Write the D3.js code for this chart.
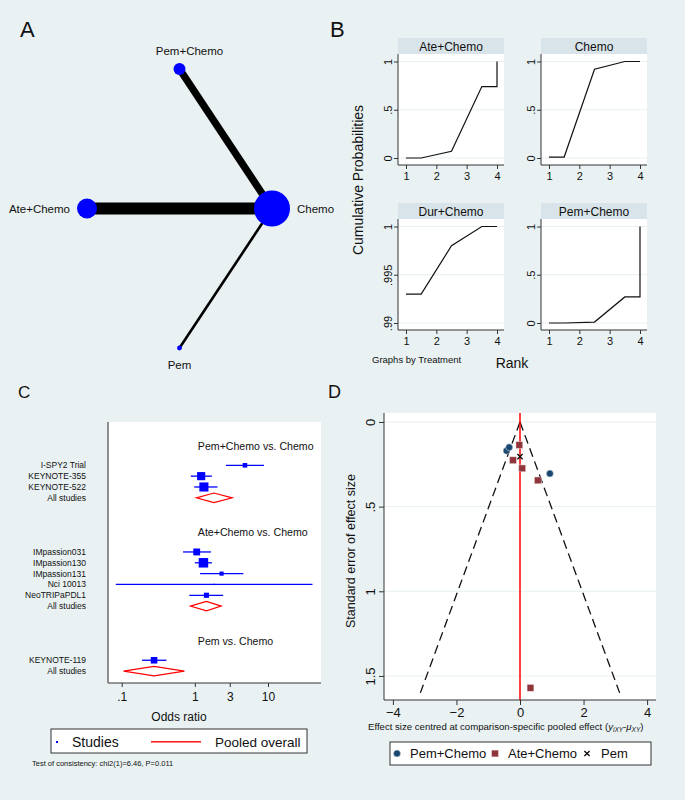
<!DOCTYPE html>
<html>
<head>
<meta charset="utf-8">
<script src="https://cdn.jsdelivr.net/npm/d3@7"></script>
<style>
  body { margin: 0; background: #e9f1f3; }
  text { font-family: "Liberation Sans", Arial, sans-serif; fill: #111; }
</style>
</head>
<body>
<svg id="fig" width="685" height="800"></svg>
<script>
// ---- A: network ----
var netNodes = ["Chemo", "Pem+Chemo", "Ate+Chemo", "Pem"];
var netWeight = [324, 36, 100, 6];
var netEdges = [["Ate+Chemo", "Chemo"], ["Pem+Chemo", "Chemo"], ["Pem", "Chemo"]];
var netEdgeStudies = [5, 3, 1];

// ---- B: cumulative rank probabilities ----
var rankTreat = ["Ate+Chemo", "Chemo", "Dur+Chemo", "Pem+Chemo"];
var rankSteps = [1, 1.5, 2.5, 3.5, 4, 4];
var cumAte = [0, 0, 0.07, 0.74, 0.74, 1];
var cumChemo = [0.01, 0.01, 0.92, 1, 1, 1];
var cumDur = [0.993, 0.993, 0.998, 1, 1, 1];
var cumPem = [0, 0, 0.01, 0.27, 0.27, 1];

// ---- C: forest plot ----
var forestGroups = ["Pem+Chemo vs. Chemo", "Ate+Chemo vs. Chemo", "Pem vs. Chemo"];
var studyNames = ["I-SPY2 Trial", "KEYNOTE-355", "KEYNOTE-522", "IMpassion031", "IMpassion130",
                  "IMpassion131", "Nci 10013", "NeoTRIPaPDL1", "KEYNOTE-119"];
var studyGroup = [0, 0, 0, 1, 1, 1, 1, 1, 2];
var studyOR = [4.84, 1.22, 1.33, 1.06, 1.31, 2.32, 1.84, 1.44, 0.277];
var studyLo = [2.66, 0.88, 0.98, 0.69, 1.0, 1.18, 0.083, 0.84, 0.19];
var studyHi = [8.8, 1.71, 2.04, 1.66, 1.71, 4.6, 40.5, 2.44, 0.41];
var studyWeight = [22, 69, 86, 49, 94, 18, 2, 28, 45];
var pooledOR = [1.82, 1.44, 0.277];
var pooledLo = [1.05, 0.87, 0.106];
var pooledHi = [3.24, 2.29, 0.72];
var orTicks = [0.1, 1, 3, 10];

// ---- D: comparison-adjusted funnel ----
var funnelGroup = ["Pem+Chemo", "Pem+Chemo", "Pem+Chemo", "Ate+Chemo", "Ate+Chemo",
                   "Ate+Chemo", "Ate+Chemo", "Ate+Chemo", "Pem"];
var funnelEffect = [-0.42, -0.34, 0.94, -0.02, -0.22, 0.07, 0.56, 0.33, 0];
var funnelSE = [0.17, 0.15, 0.305, 0.136, 0.226, 0.274, 0.345, 1.57, 0.205];
var funnelMaxSE = 1.6;

var svg = d3.select("#fig");
svg.append("rect").attr("width", 685).attr("height", 800).attr("fill", "#e9f1f3");

function letter(t, x, y, size) {
  svg.append("text").attr("x", x).attr("y", y).attr("font-size", size).text(t);
}
letter("A", 20, 37, 22);
letter("B", 330, 37, 22);
letter("C", 18, 398, 17);
letter("D", 328, 398, 18);

// ===================== A =====================
var gA = svg.append("g");
var ax = d3.scaleLinear().domain([-1, 1]).range([87, 272]);
var ay = d3.scaleLinear().domain([-1, 1]).range([348, 69]);
var rNode = d3.scaleSqrt().domain([0, 324]).range([0, 18]);
var wEdge = d3.scaleLinear().domain([1, 5]).range([2.6, 12]);

var nodes = netNodes.map(function(n, i) {
  var a = i * Math.PI / 2;
  return {name: n, x: ax(Math.cos(a)), y: ay(Math.sin(a)), r: rNode(netWeight[i]), dir: i};
});
var byName = {};
nodes.forEach(function(n) { byName[n.name] = n; });

gA.selectAll("line.edge").data(netEdges).enter().append("line")
  .attr("class", "edge")
  .attr("x1", function(d) { return byName[d[0]].x; })
  .attr("y1", function(d) { return byName[d[0]].y; })
  .attr("x2", function(d) { return byName[d[1]].x; })
  .attr("y2", function(d) { return byName[d[1]].y; })
  .attr("stroke", "#000")
  .attr("stroke-width", function(d, i) { return wEdge(netEdgeStudies[i]); });

gA.selectAll("circle").data(nodes).enter().append("circle")
  .attr("cx", function(d) { return d.x; })
  .attr("cy", function(d) { return d.y; })
  .attr("r", function(d) { return d.r; })
  .attr("fill", "#0000ff");

gA.selectAll("text.lab").data(nodes).enter().append("text")
  .attr("class", "lab")
  .attr("font-size", 11.5)
  .attr("x", function(d) {
    if (d.dir === 0) return d.x + d.r + 7;
    if (d.dir === 2) return d.x - d.r - 7;
    if (d.dir === 1) return d.x + 10;
    return d.x;
  })
  .attr("y", function(d) {
    if (d.dir === 1) return d.y - d.r - 8;
    if (d.dir === 3) return d.y + d.r + 19;
    return d.y + 4;
  })
  .attr("text-anchor", function(d) {
    return d.dir === 0 ? "start" : d.dir === 2 ? "end" : "middle";
  })
  .text(function(d) { return d.name; });

// ===================== B =====================
var cumData = [cumAte, cumChemo, cumDur, cumPem];
function fmtDec(d) {
  if (d === 0) return "0";
  if (d === 1) return "1";
  return String(+d.toFixed(3)).replace(/^0/, "");
}

rankTreat.forEach(function(t, i) {
  var col = i % 2, row = Math.floor(i / 2);
  var x0 = [398, 541][col], top = [38, 203][row];
  var w = 106, hh = 16, ph = 111;
  var pt = top + hh, pb = pt + ph;
  var dom = t === "Dur+Chemo" ? [0.99, 1] : [0, 1];
  var yt = t === "Dur+Chemo" ? [0.99, 0.995, 1] : [0, 0.5, 1];
  var x = d3.scaleLinear().domain([1, 4]).range([x0 + 8, x0 + w - 7]);
  var y = d3.scaleLinear().domain(dom).range([pb - 7, pt + 7.5]);
  var g = svg.append("g");

  g.append("rect").attr("x", x0).attr("y", top).attr("width", w).attr("height", hh).attr("fill", "#d8e4e9");
  g.append("text").attr("x", x0 + w / 2).attr("y", top + 12.5).attr("text-anchor", "middle")
    .attr("font-size", 12).text(t);
  g.append("rect").attr("x", x0).attr("y", pt).attr("width", w).attr("height", ph).attr("fill", "#fff");

  g.selectAll("line.grid").data(yt).enter().append("line")
    .attr("x1", x0).attr("x2", x0 + w)
    .attr("y1", function(d) { return y(d); }).attr("y2", function(d) { return y(d); })
    .attr("stroke", "#e6eff2").attr("stroke-width", 1);

  var line = d3.line().x(function(d, k) { return x(rankSteps[k]); }).y(function(d) { return y(d); });
  g.append("path").datum(cumData[i]).attr("d", line).attr("fill", "none")
    .attr("stroke", "#111").attr("stroke-width", 1.2);

  var yAx = g.append("g").attr("transform", "translate(" + x0 + ",0)")
    .call(d3.axisLeft(y).tickValues(yt).tickFormat(fmtDec).tickSize(4).tickSizeOuter(0));
  yAx.select(".domain").remove();
  yAx.selectAll("text").attr("x", 0).attr("y", -6).attr("dy", 0)
    .attr("transform", "rotate(-90)").style("text-anchor", "middle").attr("font-size", 11);
  g.append("line").attr("x1", x0).attr("x2", x0).attr("y1", pt).attr("y2", pb).attr("stroke", "#333");

  var xAx = g.append("g").attr("transform", "translate(0," + pb + ")")
    .call(d3.axisBottom(x).tickValues([1, 2, 3, 4]).tickFormat(d3.format("d")).tickSize(4).tickPadding(3).tickSizeOuter(0));
  xAx.select(".domain").remove();
  xAx.selectAll("text").attr("font-size", 11);
  g.append("line").attr("x1", x0).attr("x2", x0 + w).attr("y1", pb).attr("y2", pb).attr("stroke", "#333");
});
svg.selectAll(".tick line").attr("stroke", "#333");

svg.append("text").attr("transform", "translate(363,180) rotate(-90)").attr("text-anchor", "middle")
  .attr("font-size", 14).text("Cumulative Probabilities");
svg.append("text").attr("x", 372).attr("y", 363).attr("font-size", 9.5).text("Graphs by Treatment");
svg.append("text").attr("x", 512).attr("y", 368).attr("text-anchor", "middle").attr("font-size", 14).text("Rank");

// ===================== C =====================
var gC = svg.append("g");
var cL = 108, cR = 321, cT = 422, cB = 683;
var fx = d3.scaleLog().domain([0.065, 53]).range([cL, cR]);
var fy = d3.scaleLinear().domain([-4, 20.1]).range([cT, cB]);
var side = d3.scaleSqrt().domain([0, 94]).range([0, 9.5]);

gC.append("rect").attr("x", cL).attr("y", cT).attr("width", cR - cL).attr("height", cB - cT).attr("fill", "#fff");

// assign rows
var studyRow = [], pooledRow = [], headerRow = [];
var r = 0;
forestGroups.forEach(function(g, gi) {
  headerRow[gi] = r - 1.8;
  studyGroup.forEach(function(sg, si) { if (sg === gi) { studyRow[si] = r; r++; } });
  pooledRow[gi] = r; r++;
  r += 4;
});

gC.selectAll("text.hdr").data(forestGroups).enter().append("text")
  .attr("x", fx(1) + 3).attr("y", function(d, i) { return fy(headerRow[i]) + 4; })
  .attr("font-size", 10.6).text(function(d) { return d; });

gC.selectAll("line.ci").data(studyNames).enter().append("line")
  .attr("x1", function(d, i) { return fx(studyLo[i]); })
  .attr("x2", function(d, i) { return fx(studyHi[i]); })
  .attr("y1", function(d, i) { return fy(studyRow[i]); })
  .attr("y2", function(d, i) { return fy(studyRow[i]); })
  .attr("stroke", "#0000ff").attr("stroke-width", 1.3);

gC.selectAll("rect.sq").data(studyNames).enter().append("rect")
  .attr("x", function(d, i) { return fx(studyOR[i]) - side(studyWeight[i]) / 2; })
  .attr("y", function(d, i) { return fy(studyRow[i]) - side(studyWeight[i]) / 2; })
  .attr("width", function(d, i) { return side(studyWeight[i]); })
  .attr("height", function(d, i) { return side(studyWeight[i]); })
  .attr("fill", "#0000ff");

gC.selectAll("path.dia").data(pooledOR).enter().append("path")
  .attr("d", function(d, i) {
    var yy = fy(pooledRow[i]);
    return "M" + fx(pooledLo[i]) + "," + yy + "L" + fx(d) + "," + (yy - 4.8) +
      "L" + fx(pooledHi[i]) + "," + yy + "L" + fx(d) + "," + (yy + 4.8) + "Z";
  })
  .attr("fill", "none").attr("stroke", "#ff0000").attr("stroke-width", 1.2);

var rowLabels = studyNames.map(function(n, i) { return {t: n, row: studyRow[i]}; })
  .concat(pooledRow.map(function(p) { return {t: "All studies", row: p}; }));
gC.selectAll("text.rl").data(rowLabels).enter().append("text")
  .attr("x", 86).attr("y", function(d) { return fy(d.row) + 3; })
  .attr("text-anchor", "end").attr("font-size", 8.5).text(function(d) { return d.t; });

var cAx = gC.append("g").attr("transform", "translate(0," + cB + ")")
  .call(d3.axisBottom(fx).tickValues(orTicks).tickFormat(function(d) { return fmtDec(d); })
    .tickSize(4).tickPadding(5).tickSizeOuter(0));
cAx.select(".domain").remove();
cAx.selectAll("text").attr("font-size", 12);
cAx.selectAll("line").attr("stroke", "#333");
gC.append("line").attr("x1", cL).attr("x2", cR).attr("y1", cB).attr("y2", cB).attr("stroke", "#333");
gC.append("line").attr("x1", cL).attr("x2", cL).attr("y1", cT).attr("y2", cB).attr("stroke", "#555").attr("stroke-width", 1.3);
gC.append("text").attr("x", 179).attr("y", 721).attr("text-anchor", "middle").attr("font-size", 12).text("Odds ratio");

// legend C
gC.append("rect").attr("x", 51).attr("y", 729).attr("width", 256).attr("height", 24)
  .attr("fill", "#fff").attr("stroke", "#333");
gC.append("rect").attr("x", 56).attr("y", 741).attr("width", 2).attr("height", 2).attr("fill", "#0000ff");
gC.append("text").attr("x", 72).attr("y", 747).attr("font-size", 14).text("Studies");
gC.append("rect").attr("x", 151).attr("y", 741).attr("width", 50).attr("height", 1.6).attr("fill", "#ff2020");
gC.append("text").attr("x", 215).attr("y", 747).attr("font-size", 13.5).text("Pooled overall");
gC.append("text").attr("x", 32).attr("y", 766).attr("font-size", 7.5).text("Test of consistency: chi2(1)=6.46, P=0.011");

// ===================== D =====================
var gD = svg.append("g");
var dL = 384, dR = 656, dT = 413, dB = 700;
var dx = d3.scaleLinear().domain([-4.28, 4.28]).range([dL, dR]);
var dy = d3.scaleLinear().domain([-0.053, 1.642]).range([dT, dB]);
var dyt = [0, 0.5, 1, 1.5];

gD.append("rect").attr("x", dL).attr("y", dT).attr("width", dR - dL).attr("height", dB - dT).attr("fill", "#fff");
gD.selectAll("line.grid").data(dyt).enter().append("line")
  .attr("x1", dL).attr("x2", dR)
  .attr("y1", function(d) { return dy(d); }).attr("y2", function(d) { return dy(d); })
  .attr("stroke", "#e6eff2");

[-1.96, 1.96].forEach(function(z) {
  gD.append("line").attr("x1", dx(0)).attr("y1", dy(0))
    .attr("x2", dx(z * funnelMaxSE)).attr("y2", dy(funnelMaxSE))
    .attr("stroke", "#111").attr("stroke-width", 1.3).attr("stroke-dasharray", "9,5");
});
gD.append("line").attr("x1", dx(0)).attr("x2", dx(0)).attr("y1", dT).attr("y2", dB)
  .attr("stroke", "#ff0000").attr("stroke-width", 1.5);

function drawMarker(g, grp, cx, cy) {
  if (grp === "Pem+Chemo") {
    g.append("circle").attr("cx", cx).attr("cy", cy).attr("r", 3.5)
      .attr("fill", "#1a476f").attr("stroke", "#dfe8ee").attr("stroke-width", 0.5);
  } else if (grp === "Ate+Chemo") {
    g.append("rect").attr("x", cx - 3.4).attr("y", cy - 3.4).attr("width", 6.8).attr("height", 6.8)
      .attr("fill", "#90353b").attr("stroke", "#e8d8da").attr("stroke-width", 0.5);
  } else {
    g.append("path").attr("d", "M" + (cx - 2.6) + "," + (cy - 2.6) + "L" + (cx + 2.6) + "," + (cy + 2.6) +
      "M" + (cx - 2.6) + "," + (cy + 2.6) + "L" + (cx + 2.6) + "," + (cy - 2.6))
      .attr("stroke", "#111").attr("stroke-width", 1.4);
  }
}
funnelEffect.forEach(function(e, i) {
  drawMarker(gD, funnelGroup[i], dx(e), dy(funnelSE[i]));
});

var dxAx = gD.append("g").attr("transform", "translate(0," + dB + ")")
  .call(d3.axisBottom(dx).tickValues([-4, -2, 0, 2, 4]).tickFormat(d3.format("d"))
    .tickSize(5).tickPadding(3).tickSizeOuter(0));
dxAx.select(".domain").remove();
dxAx.selectAll("text").attr("font-size", 13).text(function(d) { return String(d).replace("-", "\u2212"); });
dxAx.selectAll("line").attr("stroke", "#333");
gD.append("line").attr("x1", dL).attr("x2", dR).attr("y1", dB).attr("y2", dB).attr("stroke", "#333");

var dyAx = gD.append("g").attr("transform", "translate(" + dL + ",0)")
  .call(d3.axisLeft(dy).tickValues(dyt).tickFormat(fmtDec).tickSize(5).tickSizeOuter(0));
dyAx.select(".domain").remove();
dyAx.selectAll("text").attr("x", 0).attr("y", -9).attr("dy", 0)
  .attr("transform", "rotate(-90)").style("text-anchor", "middle").attr("font-size", 13);
dyAx.selectAll("line").attr("stroke", "#333");
gD.append("line").attr("x1", dL).attr("x2", dL).attr("y1", dT).attr("y2", dB).attr("stroke", "#333");

gD.append("text").attr("transform", "translate(355,551) rotate(-90)").attr("text-anchor", "middle")
  .attr("font-size", 12.5).text("Standard error of effect size");

var xt = gD.append("text").attr("x", 368).attr("y", 730).attr("font-size", 9.6);
xt.append("tspan").text("Effect size centred at comparison-specific pooled effect (");
xt.append("tspan").attr("font-style", "italic").text("y");
xt.append("tspan").attr("font-style", "italic").attr("font-size", 6.5).attr("dy", 2).text("iXY");
xt.append("tspan").attr("dy", -2).text("-");
xt.append("tspan").attr("font-style", "italic").text("\u03bc");
xt.append("tspan").attr("font-style", "italic").attr("font-size", 6.5).attr("dy", 2).text("XY");
xt.append("tspan").attr("dy", -2).text(")");

// legend D
gD.append("rect").attr("x", 390).attr("y", 742).attr("width", 261).attr("height", 23)
  .attr("fill", "#fff").attr("stroke", "#333");
var legD = [["Pem+Chemo", 397, 410], ["Ate+Chemo", 495, 508], ["Pem", 587, 601]];
legD.forEach(function(l) {
  drawMarker(gD, l[0], l[1], 753.5);
  gD.append("text").attr("x", l[2]).attr("y", 758).attr("font-size", 13).text(l[0]);
});
</script>
</body>
</html>
